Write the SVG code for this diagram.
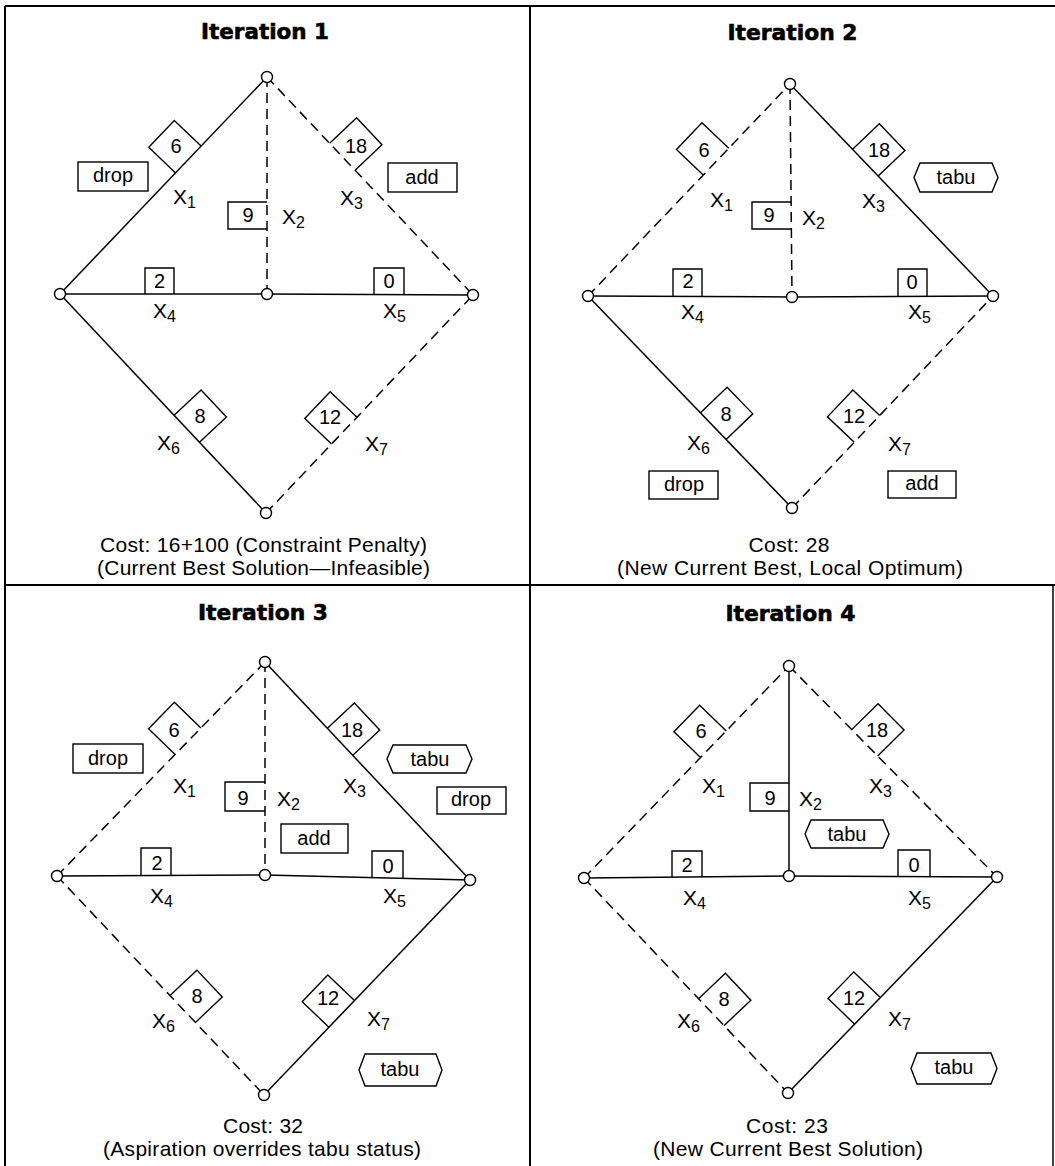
<svg xmlns="http://www.w3.org/2000/svg" width="1055" height="1166" viewBox="0 0 1055 1166">
<style>
.f{stroke:#000;stroke-width:2;fill:none}
.e{stroke:#000;stroke-width:1.5;fill:none}
.d{stroke-dasharray:10 6}
.b{fill:none;stroke:#000;stroke-width:1.4}
.n{fill:#fff;stroke:#000;stroke-width:1.4}
.t{font-family:"Liberation Sans",Arial,Helvetica,sans-serif;font-size:21px;fill:#000}
.w{font-size:20px}
.l{font-size:20px}
.c{text-anchor:middle}
.s{font-size:16px}
.h{font-family:"DejaVu Sans","Liberation Sans",sans-serif;font-weight:bold;font-size:21px;text-anchor:middle;fill:#000;stroke:#000;stroke-width:0.6}
</style>
<defs>
<polyline id="dia" points="-18.5,0 -18.5,-37 18.5,-37 18.5,0"/>
</defs>
<rect width="1055" height="1166" fill="#fff"/>
<g id="frame">
<line class="f" x1="5" y1="6" x2="1055" y2="6"/>
<line class="f" x1="5" y1="6" x2="5" y2="1166"/>
<line class="f" x1="5" y1="585" x2="1055" y2="585"/>
<line class="f" x1="530" y1="6" x2="530" y2="1166"/>
<line class="e" x1="1053" y1="586" x2="1053" y2="1166"/>
</g>

<!-- ============ Panel 1 ============ -->
<g id="panel1">
<text class="h" x="265" y="39" textLength="128" lengthAdjust="spacingAndGlyphs">Iteration 1</text>
<g id="p1-connectors">
<line class="e" x1="60" y1="294" x2="267" y2="77"/>
<line class="e d" x1="267" y1="77" x2="267" y2="294"/>
<line class="e d" x1="267" y1="77" x2="473" y2="295"/>
<line class="e" x1="60" y1="294" x2="267" y2="294"/>
<line class="e" x1="267" y1="294" x2="473" y2="295"/>
<line class="e" x1="60" y1="294" x2="266" y2="513"/>
<line class="e d" x1="266" y1="513" x2="473" y2="295"/>
</g>
<g id="p1-w6"><use href="#dia" class="b" transform="translate(188.3 159.5) rotate(-46.35)"/><text class="t w c" x="176" y="153">6</text></g>
<g id="p1-w18"><use href="#dia" class="b" transform="translate(342.4 156.7) rotate(46.63)"/><text class="t w c" x="356" y="152.5">18</text></g>
<g id="p1-w8"><use href="#dia" class="b" transform="translate(186.8 428.8) rotate(46.75)"/><text class="t w c" x="200" y="423">8</text></g>
<g id="p1-w12"><use href="#dia" class="b" transform="translate(344.3 430.6) rotate(-46.52)"/><text class="t w c" x="330" y="424">12</text></g>
<g id="p1-w9"><polyline class="b" points="267,202 228,202 228,229 267,229"/><text class="t w c" x="248" y="222">9</text></g>
<g id="p1-w2"><polyline class="b" points="145,294 145,268 174,268 174,294"/><text class="t w c" x="159.5" y="288">2</text></g>
<g id="p1-w0"><polyline class="b" points="374,294.5 374,268 404,268 404,294.5"/><text class="t w c" x="389" y="288">0</text></g>
<g id="p1-drop"><rect class="b" x="78" y="162" width="70" height="29"/><text class="t l c" x="113" y="182">drop</text></g>
<g id="p1-add"><rect class="b" x="388" y="163" width="69" height="29"/><text class="t l c" x="422" y="184">add</text></g>
<text class="t" x="173" y="204">X<tspan class="s" dy="4">1</tspan></text>
<text class="t" x="282" y="224">X<tspan class="s" dy="4">2</tspan></text>
<text class="t" x="340" y="205">X<tspan class="s" dy="4">3</tspan></text>
<text class="t" x="153" y="318">X<tspan class="s" dy="4">4</tspan></text>
<text class="t" x="383" y="318">X<tspan class="s" dy="4">5</tspan></text>
<text class="t" x="157" y="450">X<tspan class="s" dy="4">6</tspan></text>
<text class="t" x="365" y="451">X<tspan class="s" dy="4">7</tspan></text>
<g id="p1-nodes">
<g id="p1-top"><circle class="n" cx="267" cy="77" r="5.5"/></g>
<g id="p1-left"><circle class="n" cx="60" cy="294" r="5.5"/></g>
<g id="p1-mid"><circle class="n" cx="267" cy="294" r="5.5"/></g>
<g id="p1-right"><circle class="n" cx="473" cy="295" r="5.5"/></g>
<g id="p1-bottom"><circle class="n" cx="266" cy="513" r="5.5"/></g>
</g>
<text class="t c" x="263.5" y="552" textLength="327" lengthAdjust="spacing">Cost: 16+100 (Constraint Penalty)</text>
<text class="t c" x="263.5" y="575" textLength="333" lengthAdjust="spacing">(Current Best Solution—Infeasible)</text>
</g>

<!-- ============ Panel 2 ============ -->
<g id="panel2">
<text class="h" x="792.5" y="40" textLength="130" lengthAdjust="spacingAndGlyphs">Iteration 2</text>
<g id="p2-connectors">
<line class="e d" x1="588" y1="296" x2="790" y2="84"/>
<line class="e d" x1="790" y1="84" x2="792" y2="297"/>
<line class="e" x1="790" y1="84" x2="993" y2="296"/>
<line class="e" x1="588" y1="296" x2="792" y2="297"/>
<line class="e" x1="792" y1="297" x2="993" y2="296"/>
<line class="e" x1="588" y1="296" x2="792" y2="508"/>
<line class="e d" x1="792" y1="508" x2="993" y2="296"/>
</g>
<g id="p2-w6"><use href="#dia" class="b" transform="translate(716 161.6) rotate(-46.38)"/><text class="t w c" x="704" y="157">6</text></g>
<g id="p2-w18"><use href="#dia" class="b" transform="translate(865.4 162.7) rotate(46.24)"/><text class="t w c" x="879" y="157">18</text></g>
<g id="p2-w8"><use href="#dia" class="b" transform="translate(713.3 426.2) rotate(46.10)"/><text class="t w c" x="726" y="421">8</text></g>
<g id="p2-w12"><use href="#dia" class="b" transform="translate(867 428.9) rotate(-46.53)"/><text class="t w c" x="854" y="423">12</text></g>
<g id="p2-w9"><polyline class="b" points="791,202 752,202 752,229 791,229"/><text class="t w c" x="769" y="222">9</text></g>
<g id="p2-w2"><polyline class="b" points="673,296.5 673,269 702,269 702,296.5"/><text class="t w c" x="688" y="288">2</text></g>
<g id="p2-w0"><polyline class="b" points="898,296.5 898,269 927,269 927,296.5"/><text class="t w c" x="912" y="289">0</text></g>
<g id="p2-tabu"><polygon class="b" points="920,163 992,163 998,177.5 992,192 920,192 914,177.5"/><text class="t l c" x="956" y="184">tabu</text></g>
<g id="p2-drop"><rect class="b" x="649" y="471" width="69" height="28"/><text class="t l c" x="684" y="491">drop</text></g>
<g id="p2-add"><rect class="b" x="888" y="471" width="68" height="27"/><text class="t l c" x="922" y="490">add</text></g>
<text class="t" x="710" y="207">X<tspan class="s" dy="4">1</tspan></text>
<text class="t" x="802" y="225">X<tspan class="s" dy="4">2</tspan></text>
<text class="t" x="862" y="208">X<tspan class="s" dy="4">3</tspan></text>
<text class="t" x="681" y="319">X<tspan class="s" dy="4">4</tspan></text>
<text class="t" x="908" y="319">X<tspan class="s" dy="4">5</tspan></text>
<text class="t" x="687" y="450">X<tspan class="s" dy="4">6</tspan></text>
<text class="t" x="888" y="451">X<tspan class="s" dy="4">7</tspan></text>
<g id="p2-nodes">
<g id="p2-top"><circle class="n" cx="790" cy="84" r="5.5"/></g>
<g id="p2-left"><circle class="n" cx="588" cy="296" r="5.5"/></g>
<g id="p2-mid"><circle class="n" cx="792" cy="297" r="5.5"/></g>
<g id="p2-right"><circle class="n" cx="993" cy="296" r="5.5"/></g>
<g id="p2-bottom"><circle class="n" cx="792" cy="508" r="5.5"/></g>
</g>
<text class="t c" x="789" y="552" textLength="81" lengthAdjust="spacing">Cost: 28</text>
<text class="t c" x="790" y="575" textLength="346" lengthAdjust="spacing">(New Current Best, Local Optimum)</text>
</g>

<!-- ============ Panel 3 ============ -->
<g id="panel3">
<text class="h" x="263" y="620" textLength="130" lengthAdjust="spacingAndGlyphs">Iteration 3</text>
<g id="p3-connectors">
<line class="e d" x1="57" y1="876" x2="265" y2="662"/>
<line class="e d" x1="265" y1="662" x2="265" y2="875"/>
<line class="e" x1="265" y1="662" x2="470" y2="880"/>
<line class="e" x1="57" y1="876" x2="265" y2="875"/>
<line class="e" x1="265" y1="875" x2="470" y2="880"/>
<line class="e d" x1="57" y1="876" x2="264" y2="1095"/>
<line class="e" x1="264" y1="1095" x2="470" y2="880"/>
</g>
<g id="p3-w6"><use href="#dia" class="b" transform="translate(188 741.2) rotate(-45.81)"/><text class="t w c" x="174" y="737">6</text></g>
<g id="p3-w18"><use href="#dia" class="b" transform="translate(340.1 741.8) rotate(46.76)"/><text class="t w c" x="352" y="737">18</text></g>
<g id="p3-w8"><use href="#dia" class="b" transform="translate(182.7 1009) rotate(46.61)"/><text class="t w c" x="197" y="1003">8</text></g>
<g id="p3-w12"><use href="#dia" class="b" transform="translate(341.7 1013.9) rotate(-46.22)"/><text class="t w c" x="328" y="1005">12</text></g>
<g id="p3-w9"><polyline class="b" points="265,782 225,782 225,811 265,811"/><text class="t w c" x="243" y="805">9</text></g>
<g id="p3-w2"><polyline class="b" points="141,875.5 141,848 171,848 171,875.5"/><text class="t w c" x="157" y="870">2</text></g>
<g id="p3-w0"><polyline class="b" points="372,877.6 372,851 403,851 403,878.4"/><text class="t w c" x="388" y="873">0</text></g>
<g id="p3-drop1"><rect class="b" x="73" y="744" width="70" height="29"/><text class="t l c" x="108" y="765">drop</text></g>
<g id="p3-tabu1"><polygon class="b" points="393,745 466,745 472,759 466,773 393,773 387,759"/><text class="t l c" x="430" y="766">tabu</text></g>
<g id="p3-drop2"><rect class="b" x="437" y="787" width="69" height="27"/><text class="t l c" x="471" y="806">drop</text></g>
<g id="p3-add"><rect class="b" x="281" y="824" width="67" height="29"/><text class="t l c" x="314" y="845">add</text></g>
<g id="p3-tabu2"><polygon class="b" points="365,1054 436,1054 442,1070 436,1086 365,1086 359,1070"/><text class="t l c" x="400" y="1076">tabu</text></g>
<text class="t" x="173" y="793">X<tspan class="s" dy="4">1</tspan></text>
<text class="t" x="277" y="806">X<tspan class="s" dy="4">2</tspan></text>
<text class="t" x="343" y="793">X<tspan class="s" dy="4">3</tspan></text>
<text class="t" x="150" y="903">X<tspan class="s" dy="4">4</tspan></text>
<text class="t" x="383" y="903">X<tspan class="s" dy="4">5</tspan></text>
<text class="t" x="152" y="1028">X<tspan class="s" dy="4">6</tspan></text>
<text class="t" x="367" y="1026">X<tspan class="s" dy="4">7</tspan></text>
<g id="p3-nodes">
<g id="p3-top"><circle class="n" cx="265" cy="662" r="5.5"/></g>
<g id="p3-left"><circle class="n" cx="57" cy="876" r="5.5"/></g>
<g id="p3-mid"><circle class="n" cx="265" cy="875" r="5.5"/></g>
<g id="p3-right"><circle class="n" cx="470" cy="880" r="5.5"/></g>
<g id="p3-bottom"><circle class="n" cx="264" cy="1095" r="5.5"/></g>
</g>
<text class="t c" x="263" y="1133" textLength="80" lengthAdjust="spacing">Cost: 32</text>
<text class="t c" x="262" y="1156" textLength="318" lengthAdjust="spacing">(Aspiration overrides tabu status)</text>
</g>

<!-- ============ Panel 4 ============ -->
<g id="panel4">
<text class="h" x="790.5" y="621" textLength="130" lengthAdjust="spacingAndGlyphs">Iteration 4</text>
<g id="p4-connectors">
<line class="e d" x1="584" y1="878" x2="789" y2="666"/>
<line class="e" x1="789" y1="666" x2="789" y2="876"/>
<line class="e d" x1="789" y1="666" x2="997" y2="877"/>
<line class="e" x1="584" y1="878" x2="789" y2="876"/>
<line class="e" x1="789" y1="876" x2="997" y2="877"/>
<line class="e d" x1="584" y1="878" x2="788" y2="1093"/>
<line class="e" x1="788" y1="1093" x2="997" y2="877"/>
</g>
<g id="p4-w6"><use href="#dia" class="b" transform="translate(713.4 744.2) rotate(-45.96)"/><text class="t w c" x="701" y="738">6</text></g>
<g id="p4-w18"><use href="#dia" class="b" transform="translate(864.7 742.8) rotate(45.41)"/><text class="t w c" x="877" y="737">18</text></g>
<g id="p4-w8"><use href="#dia" class="b" transform="translate(711.3 1012.2) rotate(46.50)"/><text class="t w c" x="724" y="1006">8</text></g>
<g id="p4-w12"><use href="#dia" class="b" transform="translate(867.5 1010.9) rotate(-45.94)"/><text class="t w c" x="854" y="1005">12</text></g>
<g id="p4-w9"><polyline class="b" points="789,783 750,783 750,811 789,811"/><text class="t w c" x="770" y="805">9</text></g>
<g id="p4-w2"><polyline class="b" points="672,877 672,851 702,851 702,877"/><text class="t w c" x="687" y="872">2</text></g>
<g id="p4-w0"><polyline class="b" points="898,876.5 898,850 930,850 930,876.7"/><text class="t w c" x="914" y="872">0</text></g>
<g id="p4-tabu1"><polygon class="b" points="811,820 883,820 889,834 883,848 811,848 805,834"/><text class="t l c" x="847" y="841">tabu</text></g>
<g id="p4-tabu2"><polygon class="b" points="917,1053 991,1053 997,1068.5 991,1084 917,1084 911,1068.5"/><text class="t l c" x="954" y="1074">tabu</text></g>
<text class="t" x="702" y="793">X<tspan class="s" dy="4">1</tspan></text>
<text class="t" x="799" y="806">X<tspan class="s" dy="4">2</tspan></text>
<text class="t" x="869" y="793">X<tspan class="s" dy="4">3</tspan></text>
<text class="t" x="683" y="905">X<tspan class="s" dy="4">4</tspan></text>
<text class="t" x="908" y="905">X<tspan class="s" dy="4">5</tspan></text>
<text class="t" x="677" y="1028">X<tspan class="s" dy="4">6</tspan></text>
<text class="t" x="888" y="1026">X<tspan class="s" dy="4">7</tspan></text>
<g id="p4-nodes">
<g id="p4-top"><circle class="n" cx="789" cy="666" r="5.5"/></g>
<g id="p4-left"><circle class="n" cx="584" cy="878" r="5.5"/></g>
<g id="p4-mid"><circle class="n" cx="789" cy="876" r="5.5"/></g>
<g id="p4-right"><circle class="n" cx="997" cy="877" r="5.5"/></g>
<g id="p4-bottom"><circle class="n" cx="788" cy="1093" r="5.5"/></g>
</g>
<text class="t c" x="787" y="1133" textLength="82" lengthAdjust="spacing">Cost: 23</text>
<text class="t c" x="788" y="1156" textLength="270" lengthAdjust="spacing">(New Current Best Solution)</text>
</g>
</svg>
